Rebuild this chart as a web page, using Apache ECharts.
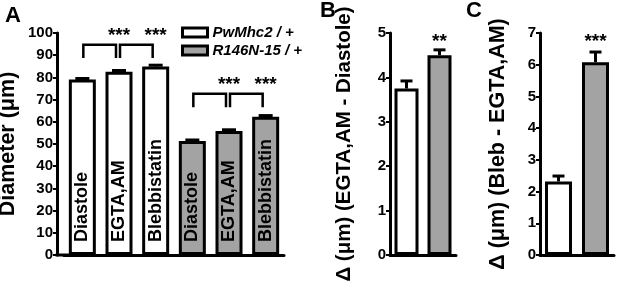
<!DOCTYPE html>
<html>
<head>
<meta charset="utf-8">
<script src="https://cdn.jsdelivr.net/npm/echarts@6/dist/echarts.min.js"></script>
<style>
  html, body { margin: 0; padding: 0; background: #fff; }
  #chart { width: 617px; height: 289px; }
</style>
</head>
<body>
<div id="chart"></div>
<script>
// data
const groups = ['PwMhc2 / +', 'R146N-15 / +'];
const treatments = ['Diastole', 'EGTA,AM', 'Blebbistatin'];
const diamPw = [79, 82.5, 84.9];
const diamPwErr = [0.5, 0.6, 0.6];
const diamR146 = [51.4, 55.9, 62.3];
const diamR146Err = [0.4, 0.5, 0.5];
const deltaEgta = [3.75, 4.5];
const deltaEgtaErr = [0.17, 0.12];
const deltaBleb = [2.32, 6.08];
const deltaBlebErr = [0.17, 0.32];
// significance brackets in panel A: [from, to, level, text]
const bracketsA = [[0, 1, 94.7, '***'], [1, 2, 94.7, '***'], [3, 4, 72.6, '***'], [4, 5, 72.6, '***']];
const starsB = [1, 4.8, '**'];
const starsC = [1, 6.72, '***'];

const FONT = 'Liberation Sans';
const WHITE = '#ffffff';
const GRAY = '#a3a3a3';
const catsA = [];
groups.forEach(g => treatments.forEach(t => catsA.push(g + '|' + t)));

const myChart = echarts.init(document.getElementById('chart'));

function yAx(gridIndex, max, name, gap, size, offset) {
    return {
        type: 'value', gridIndex, min: 0, max, interval: max > 10 ? 10 : 1,
        offset: offset || 0,
        name, nameLocation: 'middle', nameGap: gap, nameRotate: 90,
        nameTextStyle: { fontFamily: FONT, fontSize: size, fontWeight: 'bold', color: '#000' },
        axisLine: { show: true, lineStyle: { color: '#000', width: 3 } },
        axisTick: { show: true, length: 4, lineStyle: { color: '#000', width: 2 } },
        axisLabel: { fontFamily: FONT, fontSize: 15, fontWeight: 'bold', color: '#000', margin: 4 },
        splitLine: { show: false }
    };
}
function xAx(gridIndex, data) {
    return {
        type: 'category', gridIndex, data,
        axisLine: { lineStyle: { color: '#000', width: 3 } },
        axisTick: { show: false }, axisLabel: { show: false }
    };
}
function errSeries(idx, vals, errs, half) {
    return {
        type: 'custom', xAxisIndex: idx, yAxisIndex: idx, z: 5,
        data: vals.map((v, i) => (v === '-' ? null : [i, v, errs[i]])).filter(d => d),
        renderItem: (params, api) => {
            const x = api.value(0), y = api.value(1), e = api.value(2);
            const p0 = api.coord([x, y]);
            const p1 = api.coord([x, y + e]);
            const st = { stroke: '#000', lineWidth: 3 };
            return {
                type: 'group', children: [
                    { type: 'line', shape: { x1: p0[0], y1: p0[1], x2: p1[0], y2: p1[1] }, style: st },
                    { type: 'line', shape: { x1: p1[0] - half, y1: p1[1], x2: p1[0] + half, y2: p1[1] }, style: st }
                ]
            };
        }
    };
}

const padA = diamPw.map(() => '-');
const pwA = diamPw.concat(padA);
const rA = padA.concat(diamR146);
const pwAErr = diamPwErr.concat(padA);
const rAErr = padA.concat(diamR146Err);

const barLabel = {
    show: true, position: 'insideBottom', rotate: 90, align: 'left', verticalAlign: 'middle',
    distance: 13, fontFamily: FONT, fontSize: 18, fontWeight: 'bold', color: '#000',
    formatter: p => p.name.split('|')[1]
};
const letterStyle = { fontFamily: FONT, fontSize: 22, fontWeight: 'bold', color: '#000' };

const option = {
    animation: false,
    backgroundColor: '#fff',
    title: [
        { text: 'A', left: 5, top: 5, padding: 0, textStyle: letterStyle },
        { text: 'B', left: 320, top: 0, padding: 0, textStyle: letterStyle },
        { text: 'C', left: 466, top: 0, padding: 0, textStyle: letterStyle }
    ],
    legend: {
        data: groups, orient: 'vertical', left: 176, top: 20,
        itemWidth: 25, itemHeight: 9, itemGap: 3, icon: 'rect',
        itemStyle: { borderColor: '#000', borderWidth: 3 },
        textStyle: { fontFamily: FONT, fontSize: 15, fontWeight: 'bold', fontStyle: 'italic', color: '#000' }
    },
    grid: [
        { left: 64, right: 333, top: 33, bottom: 34, outerBoundsMode: 'none' },
        { left: 390, width: 66, top: 33, bottom: 34, outerBoundsMode: 'none' },
        { left: 540, width: 74, top: 33, bottom: 34, outerBoundsMode: 'none' }
    ],
    xAxis: [xAx(0, catsA), xAx(1, groups), xAx(2, groups)],
    yAxis: [
        yAx(0, 100, 'Diameter (\u03bcm)', 38, 21.5, 7),
        yAx(1, 5, '\u0394 (\u03bcm) (EGTA,AM - Diastole)', 35, 20.5),
        yAx(2, 7, '\u0394 (\u03bcm) (Bleb - EGTA,AM)', 31, 21.5)
    ],
    series: [
        {
            name: groups[0], type: 'bar', xAxisIndex: 0, yAxisIndex: 0, data: pwA,
            barWidth: 27, barGap: '-100%',
            itemStyle: { color: WHITE, borderColor: '#000', borderWidth: 3 }, label: barLabel
        },
        {
            name: groups[1], type: 'bar', xAxisIndex: 0, yAxisIndex: 0, data: rA,
            barWidth: 27, barGap: '-100%',
            itemStyle: { color: GRAY, borderColor: '#000', borderWidth: 3 }, label: barLabel
        },
        {
            name: 'B', type: 'bar', xAxisIndex: 1, yAxisIndex: 1, barWidth: 24,
            data: deltaEgta.map((v, i) => ({ value: v, itemStyle: { color: i ? GRAY : WHITE } })),
            itemStyle: { borderColor: '#000', borderWidth: 3 }
        },
        {
            name: 'C', type: 'bar', xAxisIndex: 2, yAxisIndex: 2, barWidth: 27,
            data: deltaBleb.map((v, i) => ({ value: v, itemStyle: { color: i ? GRAY : WHITE } })),
            itemStyle: { borderColor: '#000', borderWidth: 3 }
        },
        errSeries(0, pwA, pwAErr, 7),
        errSeries(0, rA, rAErr, 7),
        errSeries(1, deltaEgta, deltaEgtaErr, 6),
        errSeries(2, deltaBleb, deltaBlebErr, 6)
    ]
};
option && myChart.setOption(option);

// annotations placed through the axes
const px = (g, x, y) => myChart.convertToPixel({ gridIndex: g }, [x, y]);
const elements = [];
const starText = (p, text) => ({
    type: 'text', x: p[0], y: p[1], z: 10,
    style: { text, fill: '#000', font: 'bold 19px "' + FONT + '"', align: 'center', verticalAlign: 'middle' }
});
bracketsA.forEach(([a, b, lvl, text]) => {
    const pa = px(0, a, lvl), pb = px(0, b, lvl), leg = px(0, a, lvl - 6);
    const x1 = pa[0] + 1, x2 = pb[0] - 3;
    elements.push({
        type: 'polyline', z: 10,
        shape: { points: [[x1, leg[1]], [x1, pa[1]], [x2, pa[1]], [x2, leg[1]]] },
        style: { stroke: '#000', lineWidth: 2.5, fill: null }
    });
    elements.push(starText(px(0, (a + b) / 2, lvl + 4), text));
});
elements.push(starText(px(1, starsB[0], starsB[1]), starsB[2]));
elements.push(starText(px(2, starsC[0], starsC[1]), starsC[2]));
// close the corner between the offset y axis and the x axis in panel A
const origin = px(0, 0, 0);
elements.push({
    type: 'line', z: 10,
    shape: { x1: 55.5, y1: origin[1], x2: 70, y2: origin[1] },
    style: { stroke: '#000', lineWidth: 3 }
});
myChart.setOption({ graphic: { elements } });
</script>
</body>
</html>
